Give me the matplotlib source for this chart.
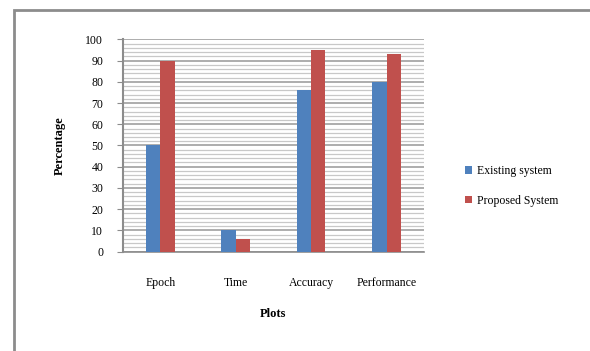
import matplotlib.pyplot as plt
import numpy as np
from matplotlib.patches import Rectangle

categories = ['Epoch', 'Time', 'Accuracy', 'Performance']
existing = [50, 10, 76, 80]
proposed = [90, 6, 95, 93]
series_names = ['Existing system', 'Proposed System']
yticks = list(range(0, 101, 10))

plt.rcParams['font.family'] = ['Liberation Serif', 'DejaVu Serif']

fig = plt.figure(figsize=(5.9, 3.51), dpi=100)
ax = fig.add_axes([0.208, 0.283, 0.511, 0.605])

# outer frame of the chart area (cut off at right and bottom)
fig.patches.append(Rectangle((14 / 590, -0.1), 1.2, 1 - 10 / 351 + 0.1,
                             transform=fig.transFigure, fill=False,
                             edgecolor='#8c8c8c', linewidth=2, zorder=0))

x = np.arange(len(categories))
w = 0.19
ax.bar(x - w / 2, existing, w, color='#4f81bd', label=series_names[0], zorder=3)
ax.bar(x + w / 2, proposed, w, color='#c0504d', label=series_names[1], zorder=3)

ax.set_xlim(-0.5, 3.5)
ax.set_ylim(0, 100)
ax.set_yticks(yticks)
ax.set_yticks(np.arange(0, 101, 2), minor=True)
ax.grid(axis='y', which='major', color='#a0a0a0', linewidth=1.2, zorder=0)
ax.grid(axis='y', which='minor', color='#c8c8c8', linewidth=0.9, zorder=0)
ax.tick_params(axis='y', which='major', length=4, color='#8c8c8c', labelsize=8.5, pad=10)
ax.tick_params(axis='y', which='minor', length=0)
ax.tick_params(axis='x', length=0, labelsize=8.5, pad=18)
ax.set_xticks(x)
ax.set_xticklabels(categories)

for s in ['top', 'right']:
    ax.spines[s].set_visible(False)
ax.spines['left'].set_color('#8c8c8c')
ax.spines['left'].set_linewidth(1.5)
ax.spines['bottom'].set_color('#8c8c8c')
ax.spines['bottom'].set_linewidth(1.2)

ax.set_ylabel('Percentage', fontsize=9, fontweight='bold', labelpad=14)
ax.set_xlabel('Plots', fontsize=9, fontweight='bold', labelpad=14)

fig.legend(loc='center left', bbox_to_anchor=(0.77, 0.47), frameon=False,
           fontsize=8.5, handlelength=0.6, handleheight=0.6, handletextpad=0.4,
           labelspacing=1.5)

fig.savefig('out.png', dpi=100)
